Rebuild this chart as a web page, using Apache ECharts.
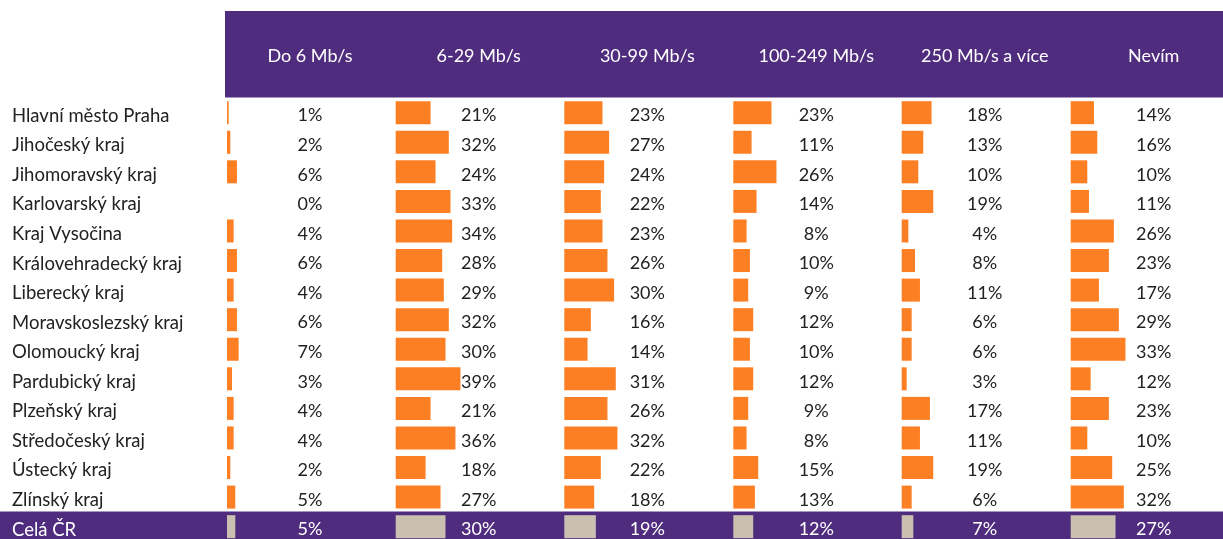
<!DOCTYPE html>
<html>
<head>
<meta charset="utf-8">
<script src="https://cdn.jsdelivr.net/npm/echarts@6/dist/echarts.min.js"></script>
<style>
html,body{margin:0;padding:0;background:#fff;}
#chart{width:1223px;height:539px;}
</style>
</head>
<body>
<div id="chart"></div>
<script>
const categories = ['Hlavní město Praha','Jihočeský kraj','Jihomoravský kraj','Karlovarský kraj','Kraj Vysočina','Královehradecký kraj','Liberecký kraj','Moravskoslezský kraj','Olomoucký kraj','Pardubický kraj','Plzeňský kraj','Středočeský kraj','Ústecký kraj','Zlínský kraj','Celá ČR'];
const headers = ['Do 6 Mb/s','6-29 Mb/s','30-99 Mb/s','100-249 Mb/s','250 Mb/s a více','Nevím'];
const do6     = [1, 2, 6, 0, 4, 6, 4, 6, 7, 3, 4, 4, 2, 5, 5];
const s6_29   = [21,32,24,33,34,28,29,32,30,39,21,36,18,27,30];
const s30_99  = [23,27,24,22,23,26,30,16,14,31,26,32,22,18,19];
const s100_249= [23,11,26,14, 8,10, 9,12,10,12, 9, 8,15,13,12];
const s250    = [18,13,10,19, 4, 8,11, 6, 6, 3,17,11,19, 6, 7];
const nevim   = [14,16,10,11,26,23,17,29,33,12,23,10,25,32,27];
const columns = [do6, s6_29, s30_99, s100_249, s250, nevim];

const PURPLE = '#4f2c7e';
const ORANGE = '#fd7f23';
const GREY = '#c9c0b1';
const FONT = 'Lato';
const colLeft = [227, 395.7, 564.3, 733.3, 901.7, 1070.7];
const colW = 166;
const gridTop = 97.9, rowH = 29.57;
const nRows = categories.length;

const grids = [], xAxes = [], yAxes = [], series = [];
columns.forEach((vals, i) => {
  grids.push({left: colLeft[i], width: colW, top: gridTop, height: rowH * nRows,
              containLabel: false, outerBoundsMode: 'none'});
  xAxes.push({
    gridIndex: i, type: 'value', min: 0, max: 100, position: 'top',
    name: headers[i], nameLocation: 'middle', nameGap: 33,
    nameTextStyle: {color: '#fff', fontSize: 18, fontFamily: FONT},
    axisLine: {show: false}, axisTick: {show: false}, axisLabel: {show: false}, splitLine: {show: false}
  });
  yAxes.push({
    gridIndex: i, type: 'category', inverse: true,
    data: categories,
    axisLine: {show: false}, axisTick: {show: false}, splitLine: {show: false},
    axisLabel: {show: i === 0, align: 'left', margin: 215, fontSize: 18.5, fontFamily: FONT,
                color: (v, k) => k === nRows - 1 ? '#fff' : '#222',
                verticalAlign: 'top', lineHeight: 6}
  });
  series.push({
    type: 'bar', xAxisIndex: i, yAxisIndex: i, barWidth: 23, silent: true,
    data: vals.map((v, k) => ({
      value: v,
      itemStyle: {color: k === nRows - 1 ? GREY : ORANGE},
      label: {color: k === nRows - 1 ? '#fff' : '#222'}
    })),
    label: {
      show: true, position: [83, '50%'], align: 'center', verticalAlign: 'middle', offset: [0, 3],
      fontSize: 18, fontFamily: FONT, formatter: p => p.value + '%'
    }
  });
});

const chart = echarts.init(document.getElementById('chart'), null, {renderer: 'canvas'});
chart.setOption({
  animation: false,
  backgroundColor: '#fff',
  graphic: [
    {type: 'rect', z: -10, shape: {x: 225, y: 11, width: 998, height: 86.5}, style: {fill: PURPLE}},
    {type: 'rect', z: -10, shape: {x: 0, y: 511.5, width: 1223, height: 30}, style: {fill: PURPLE}}
  ],
  grid: grids, xAxis: xAxes, yAxis: yAxes, series: series
});
</script>
</body>
</html>
